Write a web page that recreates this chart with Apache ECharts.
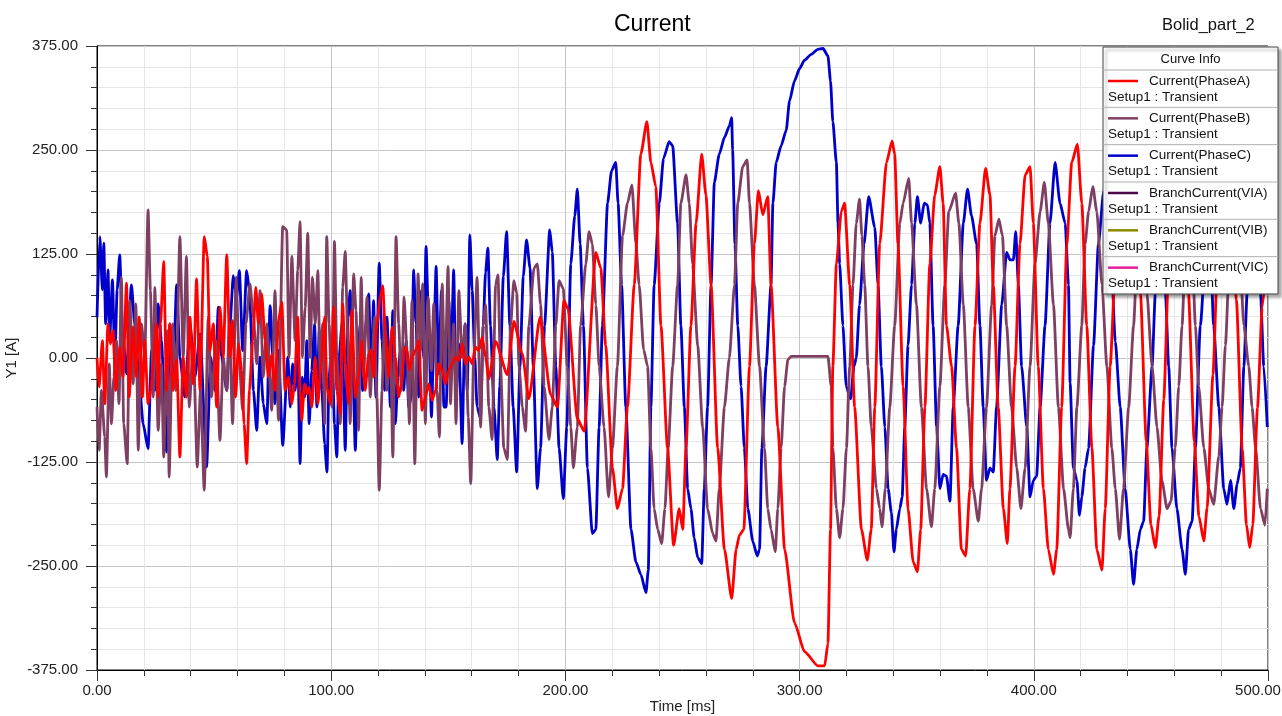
<!DOCTYPE html>
<html><head><meta charset="utf-8">
<script src="https://cdn.jsdelivr.net/npm/echarts/dist/echarts.min.js"></script>
<style>html,body{margin:0;padding:0;background:#fff}#c{width:1282px;height:716px}</style>
</head><body><div id="c"></div>
<script>
// [time ms, current A]
const phaseA = [[0,0],[0.9,-35],[2.3,21],[3.3,-55],[4.7,41],[5.7,17],[6.9,33],[8,-39],[9.7,13],[11.1,-23],[12.6,90],[13.7,-47],[15.4,37],[16.8,-23],[18,49],[19.4,-47],[20.4,21],[21.8,-55],[23,-39],[24,-6],[25.4,41],[26.1,-47],[27.1,41],[28.5,116],[29.7,-39],[31.1,41],[32.5,-39],[34,-2],[35.4,-119],[36.8,1],[38.2,-47],[39.7,49],[41.1,-31],[42.5,95],[44,-39],[45.8,146],[47.1,122],[48.2,9],[49.7,41],[51.1,-59],[52.5,61],[53.9,1],[55.4,124],[56.8,1],[57.9,45],[59.2,-47],[60.4,17],[61.8,-15],[62.8,-79],[63.9,-127],[65.1,-39],[66.5,21],[67.8,85],[68.9,41],[70.3,77],[71.8,21],[73.2,-23],[74.6,5],[76,-39],[77.5,45],[78.9,67],[80.3,-39],[81.7,-23],[83.2,-55],[84.3,-31],[85.7,49],[86.7,-39],[87.4,-75],[88.6,-31],[89.6,-43],[90.6,-35],[91.7,-59],[93.2,1],[94.3,-55],[95.7,-7],[97.2,49],[98.2,-35],[99.6,-55],[101,61],[102.4,-39],[103.9,-67],[104.9,65],[106,-6],[107.4,-55],[108.8,57],[110.3,-47],[111.7,-23],[113.1,21],[114.5,-39],[116,5],[117.1,9],[118.1,-23],[119.5,41],[121,73],[122,87],[123.1,33],[124.5,-23],[126,37],[127.4,1],[128.8,-47],[130,-31],[131.4,13],[132.4,9],[133.4,-15],[134.5,1],[136,9],[137.4,21],[138.8,-63],[140.2,-47],[141.6,-31],[143.1,-51],[144.5,-39],[145.9,-7],[147.4,-15],[148.8,-31],[150.2,-15],[151.6,-7],[153.1,1],[154.5,-3],[155.9,17],[157.3,-7],[158.8,1],[160.2,-7],[161.6,13],[163,9],[164.5,25],[165.9,1],[167.3,-25],[170.2,20],[175.2,-20],[178,44],[181.6,5],[184.4,-49],[189.2,49],[193.7,-44],[196.6,-59],[199.4,69],[201.1,59],[205.1,-73],[208,-88],[213,127],[215.1,108],[217.2,15],[220.1,-132],[222.2,-181],[224.4,-157],[226.5,-59],[229.4,88],[232.2,245],[234.8,284],[236.5,235],[238.6,206],[240.8,39],[243.6,-108],[246.2,-225],[248.6,-181],[250.1,-206],[251.5,-108],[253.6,39],[255.8,162],[258.2,245],[260,196],[262.2,88],[265,-108],[267.9,-230],[271,-289],[272.9,-230],[274.3,-213],[276.2,-206],[278.6,-10],[280.7,137],[282.4,201],[284.3,172],[286.4,194],[287.8,88],[290.7,-83],[293.6,-230],[297.8,-318],[302.1,-353],[307.8,-370],[310.7,-370],[312.1,-343],[313.2,-206],[314.2,-10],[315.7,113],[317.8,176],[319.2,186],[321.4,88],[323.5,-59],[326.4,-206],[328.9,-243],[330.6,-206],[332.1,-59],[334.2,137],[337.1,235],[339.5,261],[340.6,245],[342,137],[344.2,-34],[346.3,-181],[348.5,-245],[350.3,-257],[351.7,-206],[353.5,-59],[355.6,113],[357.7,196],[359.9,230],[361.3,186],[362.7,39],[364.9,-10],[367,-108],[369.1,-230],[370.9,-238],[372.7,-157],[374.9,39],[377,162],[379.4,228],[381.3,196],[382.7,88],[384.8,-59],[387,-181],[388.7,-223],[389.8,-157],[392,-10],[394.1,137],[396.3,220],[398.4,230],[399.8,162],[401.9,-10],[404.1,-157],[406.2,-230],[408.4,-260],[409.8,-230],[411.9,-59],[414.1,137],[416.2,235],[418.6,257],[420.5,186],[422.6,39],[424.8,-108],[426.9,-230],[429.1,-255],[430.5,-181],[432.6,-10],[435,120],[438,220],[440.5,245],[443,190],[445.5,80],[448,-100],[450,-200],[451.9,-228],[453.5,-190],[455.5,-50],[457.5,100],[459.5,200],[461.5,245],[463.8,190],[466,80],[468.5,-100],[470.5,-190],[472.6,-220],[474,-180],[476.5,-20],[478.5,120],[480.3,210],[482,240],[484.3,180],[486.5,70],[489,-110],[490.8,-200],[492.2,-228],[493.5,-200],[495.5,-60],[497.5,60],[500,140]];

const phaseB = [[0,-59],[0.9,-111],[1.9,-39],[3.3,-95],[4,-143],[5.2,-7],[6.2,-79],[7.2,-23],[8.3,21],[9.4,-55],[10.4,97],[11.4,-79],[12.9,-127],[14,69],[15.4,-31],[16.6,65],[17.6,-111],[19,41],[20.4,1],[21.8,178],[22.8,81],[24,-47],[24.7,85],[26.1,-87],[27.5,-7],[28.5,-119],[30,33],[30.8,-143],[32.3,41],[33.7,-39],[35.4,146],[36.8,1],[38.2,122],[39.4,-59],[41.1,17],[42.8,-131],[44.2,-39],[45.8,-159],[47.5,49],[48.9,-47],[50.8,21],[52.5,-99],[53.9,1],[55.4,-39],[56.5,41],[57.9,-79],[59.4,97],[60.8,-7],[62.2,-63],[63.6,41],[65.3,89],[66.8,49],[68.2,-7],[69.6,81],[71,-23],[72.5,41],[74.6,-63],[76,81],[77.5,-75],[79.3,158],[81,154],[82,1],[83.2,122],[84.6,21],[85.7,105],[86.7,164],[87.7,1],[88.9,61],[90,150],[91,1],[92,97],[93.2,41],[94.3,105],[95.3,-19],[96.3,41],[97.2,-79],[98.1,146],[99.1,41],[100.3,-59],[101.4,140],[102.4,1],[103.9,-79],[104.9,85],[106,128],[107.1,21],[108.1,-79],[109.6,101],[110.6,57],[111.7,-87],[112.8,97],[113.8,-23],[115.3,73],[116.7,-47],[117.7,9],[118.5,49],[119.5,-47],[120.5,-159],[121.7,-39],[122.8,49],[123.8,-39],[125.3,21],[126.3,-119],[127.7,146],[128.8,41],[130,-39],[131.1,73],[132.4,9],[133.4,-79],[134.5,69],[135.7,-127],[137.1,101],[138.1,9],[139.1,89],[140.2,-79],[141.4,73],[142.8,-15],[143.8,65],[145.2,-39],[146.2,-95],[147.4,89],[148.5,-31],[149.9,110],[150.9,-55],[152.3,41],[153.3,-79],[154.5,81],[155.9,1],[157.3,41],[158.5,-71],[159.6,-151],[160.9,1],[162.3,97],[163.8,-83],[164.9,39],[165.9,64],[167.3,-59],[168.7,-98],[170.2,88],[171.2,100],[172.3,-10],[173.7,-108],[175.2,-122],[176.6,39],[178,93],[179.2,78],[180.2,-10],[181.6,-59],[183,-88],[184.4,39],[186.6,108],[188,113],[189.4,64],[190.9,-34],[193,-98],[194.4,-59],[195.9,39],[197.3,93],[199.1,83],[200.8,-10],[202.3,-83],[203.4,-132],[205.1,-83],[206.5,39],[208.7,113],[210.1,152],[211.5,137],[213,64],[214.4,-10],[216.5,-83],[218.4,-167],[220.1,-108],[222.2,-10],[224.4,147],[226.5,186],[228.4,208],[230.1,137],[231.5,88],[233.4,10],[235.1,-10],[236.5,-108],[237.9,-181],[239.4,-206],[241.1,-223],[242.5,-181],[243.9,-108],[245.8,-10],[247.9,88],[249.3,186],[251.5,220],[252.9,186],[254.3,113],[256.5,15],[258.6,-83],[260.7,-181],[262.9,-211],[264.3,-220],[265.7,-157],[267.9,-59],[270,0],[272.2,88],[273.6,186],[275.7,230],[277.6,238],[278.6,186],[280.7,88],[282.9,-10],[285,-108],[286.4,-181],[287.8,-206],[289.6,-233],[290.7,-181],[292.1,-108],[293.6,-34],[295,-2],[296.4,2],[312.1,2],[313.5,-34],[314.2,-108],[315.7,-181],[317.1,-216],[318.5,-181],[320,-108],[321.4,-10],[322.8,88],[324.2,162],[325.6,191],[326.6,147],[327.8,88],[329.2,-10],[330.6,-83],[332.8,-157],[334.2,-181],[335.2,-203],[336.6,-157],[338.5,-59],[340.6,39],[342.8,162],[344.2,186],[346.6,216],[347.8,162],[349.9,64],[352,-59],[354.2,-157],[356.3,-203],[357.7,-157],[359.9,-34],[362,88],[363.7,176],[366.6,198],[368,162],[369.9,64],[372,-59],[374.1,-157],[376.3,-196],[377.7,-157],[379.8,-59],[382,64],[383.4,147],[385.1,167],[386.6,147],[388.4,39],[390.5,-59],[392.7,-132],[394.5,-181],[396.3,-132],[398.4,-10],[400.5,113],[402.7,176],[404.5,211],[406.2,162],[408.4,64],[410.5,-59],[412.7,-157],[414.8,-206],[415.5,-216],[416.9,-157],[418.4,-59],[420.5,39],[421.9,137],[423.4,176],[425.2,206],[426.9,176],[429.1,88],[431.2,-10],[433.3,-108],[434.8,-157],[436.6,-218],[438.3,-157],[440.5,-59],[442.6,39],[444.5,150],[446.2,200],[448.3,78],[450.5,-10],[452.6,-83],[454.7,-147],[456.9,-181],[458.6,-172],[460.4,-108],[461.9,-34],[463.3,39],[465,150],[466.9,200],[469,39],[470.4,-34],[472.6,-108],[474.7,-157],[476.8,-176],[479,-118],[480.4,-59],[481.8,15],[484,150],[486.1,200],[488,120],[489.7,39],[491.8,-10],[493.2,-59],[494.7,-108],[496.8,-181],[498.7,-201],[499.7,-157]];

const phaseC = [[0,49],[1.2,146],[2.3,82],[2.9,138],[3.7,41],[4.7,106],[5.4,21],[6.6,94],[7.6,-6],[8.6,82],[9.7,124],[10.9,33],[12.6,-19],[14.7,88],[16.1,41],[18.3,-39],[19.7,-79],[21.8,-109],[23.3,9],[24.7,-39],[26.1,65],[27.5,21],[29.7,-113],[31.1,41],[32.5,-23],[34,88],[35.4,1],[37.5,-47],[39.7,41],[41.8,-23],[44,29],[46.8,-131],[48.5,1],[50.4,-39],[51.8,61],[53.2,1],[55.4,-39],[56.8,41],[58.2,99],[59.6,73],[60.8,105],[62.2,9],[63.9,105],[65.1,81],[66.8,-39],[68.2,-87],[69.6,1],[71,-55],[72.5,-79],[73.9,63],[76,-55],[77.5,9],[79.3,-105],[81.5,1],[82.5,-59],[83.5,-7],[84.6,-39],[85.7,9],[86.7,-127],[87.7,-23],[88.6,-47],[89.6,21],[90.6,-79],[91.7,-15],[92.9,41],[93.9,-59],[94.9,33],[96,-39],[97.2,-103],[98.2,-137],[99.1,-23],[100.3,21],[101.4,-79],[102.4,-119],[103.4,1],[104.6,41],[106,-111],[107.1,49],[108.1,81],[109.1,1],[110.3,-111],[111.4,1],[112.4,41],[113.4,-39],[114.5,33],[116,77],[117.1,-23],[118.1,69],[119.1,-47],[120.5,114],[121.7,21],[122.8,-39],[123.8,49],[125.3,-59],[126.3,57],[127.4,-79],[128.5,-23],[129.5,9],[131,-39],[132,21],[133.1,-59],[134.2,-47],[135.2,106],[136.2,41],[137.4,-47],[138.5,81],[139.5,1],[140.5,134],[141.6,41],[142.8,-71],[143.8,21],[144.8,110],[145.9,-19],[147.1,81],[148.1,-59],[149.1,-59],[150.2,69],[151.2,1],[152.3,106],[153.3,-47],[154.5,17],[155.9,-103],[157.1,41],[158.1,-39],[159.2,148],[160.2,81],[161.3,1],[162.3,-59],[163.8,-73],[164.9,39],[165.9,103],[166.9,132],[168,39],[169.5,-59],[170.9,-122],[172,-34],[173.5,98],[174.9,152],[176.3,39],[177.7,-59],[179.2,-137],[180.6,-10],[182,98],[183.4,142],[184.9,108],[186.3,-10],[188,-157],[189.4,-108],[191.1,39],[193.3,154],[194.4,127],[195.9,-10],[197.3,-108],[199.1,-169],[200.6,-83],[202.3,113],[204,171],[205.1,203],[206.3,137],[207.7,39],[209.4,-132],[211.5,-211],[213,-206],[214.4,-83],[215.8,39],[218,186],[219.7,225],[221.5,235],[222.5,186],[224,88],[225.8,-59],[228,-206],[230.1,-245],[232.2,-260],[234.4,-282],[235.4,-255],[236.5,-59],[237.9,88],[240.1,186],[241.9,240],[244.3,260],[245.8,255],[247.9,162],[249.3,39],[250.8,-59],[252.2,-157],[253.6,-181],[255,-216],[256.5,-240],[258.2,-247],[259.3,-157],[260.7,-59],[262.2,88],[263.6,211],[265.7,245],[267.9,265],[270,279],[271,289],[271.4,250],[272.4,137],[273.6,39],[275,-34],[276.4,-108],[277.9,-181],[280,-220],[281.9,-238],[282.9,-230],[283.9,-108],[285.7,-10],[287.8,88],[288.6,186],[290,235],[292.1,255],[294.3,274],[295.7,309],[297.8,333],[300,348],[302.1,358],[305,365],[307.8,371],[310,372],[312.1,363],[313.2,333],[314.2,284],[315.7,235],[316.4,162],[317.1,113],[318.5,39],[319.9,-34],[321.8,-49],[323.2,-10],[324.2,0],[325.6,64],[327.5,137],[329.5,194],[332.1,157],[333.5,88],[334.9,-10],[336.4,-83],[337.8,-157],[339.2,-186],[340.3,-233],[341.3,-206],[342.8,-181],[343.8,-167],[344.9,-83],[346.3,15],[347.8,88],[349.2,162],[350.3,194],[351.7,162],[353.2,186],[354.6,184],[355.6,162],[357,39],[358.5,-83],[359.9,-157],[361.3,-140],[362.7,-142],[364.2,-172],[365.6,-59],[367.7,39],[369.9,162],[371.7,203],[373.4,171],[375.6,137],[377,39],[378.4,-59],[379.8,-147],[381.3,-132],[382.7,-137],[384.1,-59],[386.3,64],[388.4,127],[389.8,118],[391.3,118],[392.3,152],[393.4,88],[394.8,-10],[397,-83],[398.4,-167],[399.8,-147],[401.2,-142],[402.7,-59],[404.8,39],[406.9,162],[409.1,235],[411.2,186],[413.4,162],[414.8,88],[415.5,-30],[416.9,-132],[418.4,-147],[419.5,-189],[420.5,-167],[421.9,-132],[423.4,-108],[425.5,15],[427.6,137],[429.8,200],[431.9,210],[434.8,20],[436.9,-59],[439,-157],[441.2,-230],[442.6,-272],[444,-230],[445.5,-206],[446.9,-196],[448.3,-108],[450.5,-10],[451.9,78],[454,200],[456.2,78],[457.6,-10],[459,-108],[461.1,-181],[463.3,-230],[464.7,-260],[466.1,-206],[467.6,-196],[469,-108],[471.1,39],[474.7,200],[476.8,39],[479,-59],[481.1,-157],[482.5,-176],[484,-147],[485.4,-181],[486.8,-152],[488.2,-132],[489.7,-10],[491.1,78],[494,200],[496.8,78],[498.2,-10],[499.7,-83]];

const legendNames = ['Current(PhaseA)','Current(PhaseB)','Current(PhaseC)','BranchCurrent(VIA)','BranchCurrent(VIB)','BranchCurrent(VIC)'];
const legendSub = 'Setup1 : Transient';
const legendColors = ['#ff0000','#7f3f62','#0000cc','#4a0a4a','#8c8c00','#e0209a'];

const FONT = '"Liberation Sans", Arial, sans-serif';
const chart = echarts.init(document.getElementById('c'));

const g = [];
const lgX = 1103, lgY = 47, lgW = 175, headH = 23, rowH = 37.33;
g.push({type:'rect', z:100, shape:{x:lgX,y:lgY,width:lgW,height:headH+rowH*6},
  style:{fill:'#fff',stroke:'#444',lineWidth:1,shadowBlur:3,shadowOffsetX:3,shadowOffsetY:3,shadowColor:'rgba(0,0,0,0.35)'}});
g.push({type:'text', z:101, x:lgX+lgW/2, y:lgY+headH/2+1, style:{text:'Curve Info', font:'13px '+FONT, fill:'#111', align:'center', verticalAlign:'middle'}});
for (let i=0;i<6;i++){
  const top = lgY+headH+i*rowH;
  g.push({type:'line', z:101, shape:{x1:lgX,y1:top,x2:lgX+lgW,y2:top}, style:{stroke:'#b0b0b0',lineWidth:1}});
  g.push({type:'line', z:101, shape:{x1:lgX+5,y1:top+11,x2:lgX+35,y2:top+11}, style:{stroke:legendColors[i],lineWidth:2.5}});
  g.push({type:'text', z:101, x:lgX+46, y:top+11, style:{text:legendNames[i], font:'13.5px '+FONT, fill:'#111', align:'left', verticalAlign:'middle'}});
  g.push({type:'text', z:101, x:lgX+5, y:top+27, style:{text:legendSub, font:'13.5px '+FONT, fill:'#111', align:'left', verticalAlign:'middle'}});
}

const axisCommon = {
  axisLine:{show:true,onZero:false,lineStyle:{color:'#000',width:1}},
  axisTick:{show:true,length:11,lineStyle:{color:'#333'}},
  minorTick:{show:true,splitNumber:5,length:6,lineStyle:{color:'#333'}},
  splitLine:{show:true,lineStyle:{color:'#c4c4c4',width:1}},
  minorSplitLine:{show:true,lineStyle:{color:'#e6e6e6',width:1}},
  nameMoveOverlap:false,
  nameTextStyle:{fontFamily:FONT,fontSize:15,color:'#222',align:'center',verticalAlign:'middle'}
};

const mk = (name, data, color) => ({
  name, type:'line', data, showSymbol:false, symbol:'none', clip:true,
  smooth:0.2, smoothMonotone:'x',
  lineStyle:{color, width:2.8}, itemStyle:{color}
});

chart.setOption({
  animation:false,
  backgroundColor:'#fff',
  textStyle:{fontFamily:FONT},
  title:[
    {text:'Current', left:609, top:8, textStyle:{fontFamily:FONT,fontSize:23,fontWeight:'normal',color:'#000'}},
    {text:'Bolid_part_2', left:1157, top:12, textStyle:{fontFamily:FONT,fontSize:16.5,fontWeight:'normal',color:'#111'}}
  ],
  grid:{left:97,right:14,top:46,bottom:46,show:true,borderColor:'#000',borderWidth:1,containLabel:false,outerBoundsMode:'none'},
  xAxis:Object.assign({}, axisCommon, {
    type:'value', min:0, max:500, interval:100,
    name:'Time [ms]', nameLocation:'middle', nameGap:37,
    axisLabel:{fontFamily:FONT,fontSize:15,color:'#222',margin:13,
      formatter:v => v===500 ? '{n|500.00}{p| }' : v.toFixed(2),
      rich:{n:{fontFamily:FONT,fontSize:15,color:'#222'},p:{width:20}}}
  }),
  yAxis:Object.assign({}, axisCommon, {
    type:'value', min:-375, max:375, interval:125,
    name:'Y1 [A]', nameLocation:'middle', nameGap:85,
    axisLabel:{fontFamily:FONT,fontSize:15,color:'#222',margin:19,formatter:v=>v.toFixed(2)}
  }),
  series:[
    mk('Current(PhaseC)', phaseC, '#0000cc'),
    mk('Current(PhaseB)', phaseB, '#7f3f62'),
    mk('Current(PhaseA)', phaseA, '#ff0000')
  ],
  graphic:g
});
</script></body></html>
